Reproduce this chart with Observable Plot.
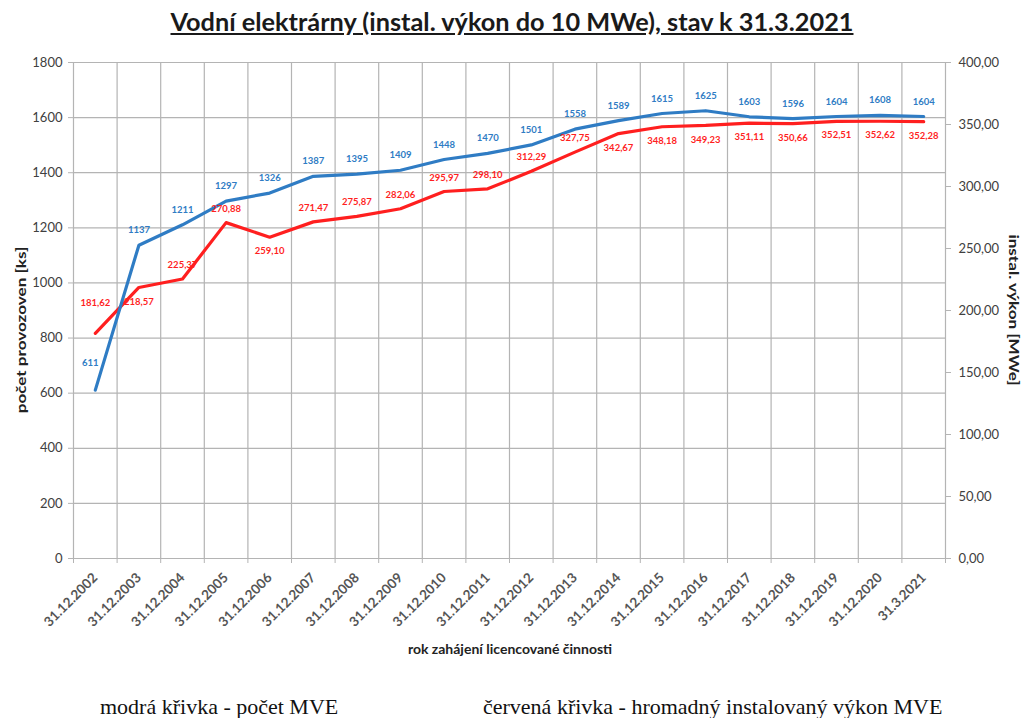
<!DOCTYPE html>
<html><head><meta charset="utf-8">
<script src="https://cdn.jsdelivr.net/npm/d3@7"></script>
<script src="https://cdn.jsdelivr.net/npm/@observablehq/plot@0.6"></script>
<style>
body{margin:0;background:#fff;width:1024px;height:718px;position:relative;overflow:hidden;font-family:Lato,sans-serif}
#title{position:absolute;left:0;top:6px;width:1024px;text-align:center;font-weight:bold;font-size:25.3px;text-decoration:underline;color:#1a1a1a;font-family:Lato}
#chart{position:absolute;left:0;top:50px}
.lab{position:absolute;font-weight:bold;font-size:14px;color:#222;white-space:nowrap;font-family:Lato}
.cap{position:absolute;top:695px;font-family:"Liberation Serif",serif;font-size:22px;color:#111;white-space:nowrap;line-height:24px}
</style></head>
<body>
<div id="title">Vodní elektrárny (instal. výkon do 10 MWe), stav k 31.3.2021</div>
<div id="chart"></div>
<div class="lab" style="left:20px;top:330px;transform:translate(-50%,-50%) rotate(-90deg) scaleX(1.22)">počet provozoven [ks]</div>
<div class="lab" style="left:1014px;top:310px;transform:translate(-50%,-50%) rotate(90deg) scaleX(1.22)">instal. výkon [MWe]</div>
<div class="lab" style="left:510px;top:648px;transform:translate(-50%,-50%)">rok zahájení licencované činnosti</div>
<div class="cap" style="left:100px">modrá křivka - počet MVE</div>
<div class="cap" style="left:483px">červená křivka - hromadný instalovaný výkon MVE</div>
<script>
const dates = ["31.12.2002","31.12.2003","31.12.2004","31.12.2005","31.12.2006","31.12.2007","31.12.2008","31.12.2009","31.12.2010","31.12.2011","31.12.2012","31.12.2013","31.12.2014","31.12.2015","31.12.2016","31.12.2017","31.12.2018","31.12.2019","31.12.2020","31.3.2021"];
const pocet = [611,1137,1211,1297,1326,1387,1395,1409,1448,1470,1501,1558,1589,1615,1625,1603,1596,1604,1608,1604];
const vykon = [181.62,218.57,225.37,270.88,259.10,271.47,275.87,282.06,295.97,298.10,312.29,327.75,342.67,348.18,349.23,351.11,350.66,352.51,352.62,352.28];
const leftTicks = [0,200,400,600,800,1000,1200,1400,1600,1800];
const rightTicks = [0,50,100,150,200,250,300,350,400];

const K = 1800/400;
const BLUE = "#2f7cc4", RED = "#ff1f1f", GRID = "#b4b4b4", TXT = "#404040";
const belowRed = new Set([1,4,12,13,14,15,16,17,18,19]);
const rows = dates.map((d,i)=>({i, d, p: pocet[i], v: vykon[i], vy: vykon[i]*K}));
const first = rows.slice(0,1), rest = rows.slice(1);
const bounds = d3.range(dates.length+1).map(i=>i-0.5);
const comma = v => v.toFixed(2).replace(".", ",");
const lbl = {fontWeight:"bold", fontSize:9.5};

const chart = Plot.plot({
  width:1024, height:620,
  marginTop:12, marginBottom:112, marginLeft:73, marginRight:79,
  style:{fontFamily:"Lato", background:"#fff"},
  x:{type:"linear", domain:[-0.5, dates.length-0.5], axis:null},
  y:{domain:[0,1800], axis:null},
  marks:[
    Plot.ruleY(leftTicks, {stroke:GRID, strokeWidth:1.2}),
    Plot.ruleX(bounds, {stroke:GRID, strokeWidth:1.2}),
    Plot.axisY(leftTicks, {anchor:"left", tickSize:5, tickPadding:6, fontSize:13, stroke:GRID, fill:TXT, label:null, tickFormat:d=>String(d)}),
    Plot.axisY(rightTicks.map(v=>v*K), {anchor:"right", tickSize:5, tickPadding:8, fontSize:13, stroke:GRID, fill:TXT, label:null, tickFormat:v=>comma(v/K)}),
    Plot.axisX(bounds, {anchor:"bottom", tickSize:5, stroke:GRID, tickFormat:()=>"", label:null}),
    Plot.axisX(d3.range(dates.length), {anchor:"bottom", tickSize:0, tickPadding:17, tickRotate:-45, fontSize:13.5, fontWeight:"bold", fill:"#555", label:null, tickFormat:i=>dates[i]}),
    Plot.line(rows, {x:"i", y:"vy", stroke:RED, strokeWidth:3.2, strokeLinejoin:"round"}),
    Plot.line(rows, {x:"i", y:"p", stroke:BLUE, strokeWidth:3.2, strokeLinejoin:"round"}),
    Plot.text(first, {x:"i", y:"p", text:d=>String(d.p), dx:-5, dy:-27, fill:BLUE, ...lbl}),
    Plot.text(rest, {x:"i", y:"p", text:d=>String(d.p), dy:-15, fill:BLUE, ...lbl}),
    Plot.text(first, {x:"i", y:"vy", text:d=>comma(d.v), dy:-30, fill:RED, ...lbl}),
    Plot.text(rest.filter(d=>!belowRed.has(d.i)), {x:"i", y:"vy", text:d=>comma(d.v), dy:-14, fill:RED, ...lbl}),
    Plot.text(rest.filter(d=>belowRed.has(d.i)), {x:"i", y:"vy", text:d=>comma(d.v), dy:14, fill:RED, ...lbl})
  ]
});
document.getElementById("chart").appendChild(chart);
</script>
</body></html>
